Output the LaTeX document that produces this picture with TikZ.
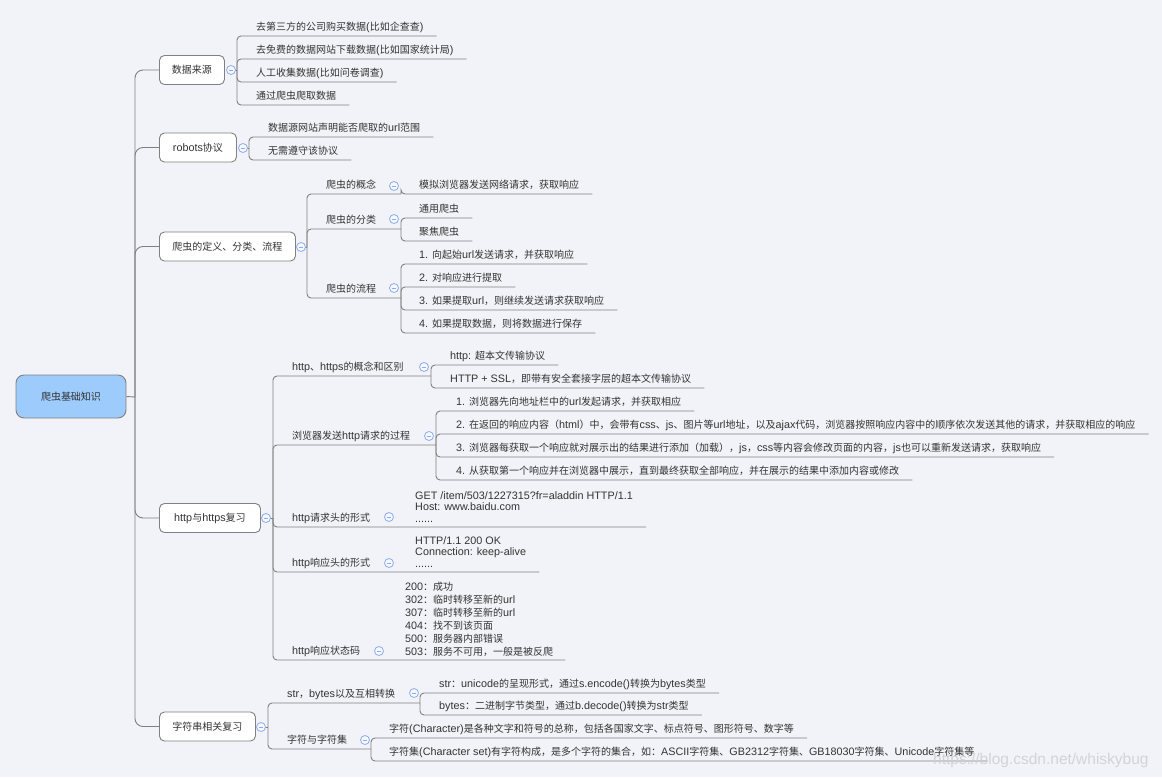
\documentclass[tikz,border=0pt]{standalone}
\usepackage{fontspec}
\setmainfont{Liberation Sans}[Scale=1.08]
\newfontfamily\cjkfont{Noto Sans CJK SC}
\newfontfamily\wmfont{Liberation Sans}
% CJK characters switch to the CJK family automatically
\XeTeXinterchartokenstate=1
\newXeTeXintercharclass\cjkcls
\newcount\cjkc
\def\cjkrange#1#2{\cjkc=#1\relax
  \loop\XeTeXcharclass\cjkc=\cjkcls\relax
  \ifnum\cjkc<#2\relax\advance\cjkc by 1\relax\repeat}
\cjkrange{"3000}{"303F}
\cjkrange{"4E00}{"9FFF}
\cjkrange{"FF00}{"FFEF}
\XeTeXinterchartoks 0 \cjkcls = {\begingroup\cjkfont}
\XeTeXinterchartoks 4095 \cjkcls = {\begingroup\cjkfont}
\XeTeXinterchartoks \cjkcls 0 = {\endgroup}
\XeTeXinterchartoks \cjkcls 4095 = {\endgroup}
\definecolor{bg}{RGB}{242,243,248}
\definecolor{ln}{RGB}{128,128,128}
\definecolor{tx}{RGB}{51,51,51}
\definecolor{rootfill}{RGB}{156,203,252}
\definecolor{btnc}{RGB}{140,172,238}
\definecolor{btnfill}{RGB}{246,248,255}
\definecolor{wm}{RGB}{205,205,212}
\pgfdeclarelayer{paper}
\pgfdeclarelayer{lines}
\pgfsetlayers{paper,lines,main}
\begin{document}
\begin{tikzpicture}[x=1pt,y=-1pt,
  conn/.style={draw=ln,line width=0.9pt},
  bconn/.style={conn,rounded corners=8pt},
  sconn/.style={conn,rounded corners=4pt},
  topic/.style={draw=ln,line width=0.9pt,fill=white,rounded corners=5pt,minimum height=29pt,inner sep=0pt,anchor=west,text=tx,font=\fontsize{10}{12}\selectfont},
  rootbox/.style={draw=ln,line width=0.9pt,fill=rootfill,rounded corners=8pt,minimum width=110pt,minimum height=43pt,inner sep=0pt,text=tx,font=\fontsize{10}{12}\selectfont},
  btn/.style={circle,draw=btnc,line width=0.8pt,fill=btnfill,minimum size=9pt,inner sep=0pt,
    path picture={\draw[btnc,line width=0.8pt] ([xshift=-2.2pt]path picture bounding box.center) -- ([xshift=2.2pt]path picture bounding box.center);}},
  leaf/.style={anchor=south west,inner sep=0pt,text depth=5pt,text=tx,font=\fontsize{10}{12}\selectfont},
  mleaf/.style={anchor=base west,inner sep=0pt,text=tx,font=\fontsize{10}{12}\selectfont},
]
\begin{pgfonlayer}{paper}
\fill[bg] (0,0) rectangle (1162,777);
\end{pgfonlayer}
\useasboundingbox (0,0) rectangle (1162,777);

% ---------- coordinates ----------
\coordinate (j0) at (135,397);
\coordinate (v1) at (237,70);
\coordinate (v2) at (249,148);
\coordinate (v3) at (307,247);
\coordinate (v4) at (273,518);
\coordinate (v5) at (268,727);
\coordinate (w31) at (401,194);
\coordinate (w32) at (401,229);
\coordinate (w33) at (401,298);
\coordinate (w41) at (431,376);
\coordinate (w42) at (436,445);
\coordinate (w43) at (396,527);
\coordinate (w44) at (396,572);
\coordinate (w45) at (396,660);
\coordinate (w51) at (420,703);
\coordinate (w52) at (371,749);

% ---------- main nodes ----------
\node[rootbox] (root) at (71,396.5) {爬虫基础知识};
\node[topic,minimum width=65pt] (n1) at (159,70) {数据来源};
\node[topic,minimum width=77pt] (n2) at (159,147.5) {robots协议};
\node[topic,minimum width=136pt] (n3) at (159,246.5) {爬虫的定义、分类、流程};
\node[topic,minimum width=101pt] (n4) at (159,518) {http与https复习};
\node[topic,minimum width=96pt] (n5) at (159,726.5) {字符串相关复习};

% ---------- collapse buttons ----------
\node[btn] (b1) at (231,70) {};
\node[btn] (b2) at (243,148) {};
\node[btn] (b3) at (301,247) {};
\node[btn] (b4) at (266,518) {};
\node[btn] (b5) at (261,727) {};
\node[btn] (bp1) at (394,186) {};
\node[btn] (bp2) at (394,219) {};
\node[btn] (bp3) at (394,288) {};
\node[btn] (bh1) at (424,367) {};
\node[btn] (bh2) at (429,436) {};
\node[btn] (bh3) at (389,517) {};
\node[btn] (bh4) at (389,563) {};
\node[btn] (bh5) at (379,651) {};
\node[btn] (bs1) at (414,693) {};
\node[btn] (bs2) at (365,740) {};

% ---------- leaves: section 1 ----------
\node[leaf] (a1) at (256,36) {去第三方的公司购买数据(比如企查查)};
\node[leaf] (a2) at (256,59) {去免费的数据网站下载数据(比如国家统计局)};
\node[leaf] (a3) at (256,82) {人工收集数据(比如问卷调查)};
\node[leaf] (a4) at (256,105) {通过爬虫爬取数据};
% section 2
\node[leaf] (r1) at (268,137) {数据源网站声明能否爬取的url范围};
\node[leaf] (r2) at (268,160) {无需遵守该协议};
% section 3
\node[leaf] (p1) at (326,194) {爬虫的概念};
\node[leaf] (p2) at (326,229) {爬虫的分类};
\node[leaf] (p3) at (326,298) {爬虫的流程};
\node[leaf] (c311) at (419,194) {模拟浏览器发送网络请求，获取响应};
\node[leaf] (c321) at (419,218) {通用爬虫};
\node[leaf] (c322) at (419,241) {聚焦爬虫};
\node[leaf] (c331) at (419,264) {1. 向起始url发送请求，并获取响应};
\node[leaf] (c332) at (419,287) {2. 对响应进行提取};
\node[leaf] (c333) at (419,310) {3. 如果提取url，则继续发送请求获取响应};
\node[leaf] (c334) at (419,333) {4. 如果提取数据，则将数据进行保存};
% section 4
\node[leaf] (h1) at (292,376) {http、https的概念和区别};
\node[leaf] (h2) at (292,445) {浏览器发送http请求的过程};
\node[leaf] (h3) at (292,527) {http请求头的形式};
\node[leaf] (h4) at (292,572) {http响应头的形式};
\node[leaf] (h5) at (292,660) {http响应状态码};
\node[leaf] (c411) at (450,365) {http: 超本文传输协议};
\node[leaf] (c412) at (450,388) {HTTP + SSL，即带有安全套接字层的超本文传输协议};
\node[leaf] (c421) at (456,411) {1. 浏览器先向地址栏中的url发起请求，并获取相应};
\node[leaf] (c422) at (456,434) {2. 在返回的响应内容（html）中，会带有css、js、图片等url地址，以及ajax代码，浏览器按照响应内容中的顺序依次发送其他的请求，并获取相应的响应};
\node[leaf] (c423) at (456,457) {3. 浏览器每获取一个响应就对展示出的结果进行添加（加载），js，css等内容会修改页面的内容，js也可以重新发送请求，获取响应};
\node[leaf] (c424) at (456,480) {4. 从获取第一个响应并在浏览器中展示，直到最终获取全部响应，并在展示的结果中添加内容或修改};
\node[mleaf] (h3c) at (415,522) {\vbox{\baselineskip=11.5pt\lineskiplimit=-100pt
  \hbox{GET /item/503/1227315?fr=aladdin HTTP/1.1}
  \hbox{Host: www.baidu.com}
  \hbox{......}}};
\node[mleaf] (h4c) at (415,567) {\vbox{\baselineskip=11.5pt\lineskiplimit=-100pt
  \hbox{HTTP/1.1 200 OK}
  \hbox{Connection: keep-alive}
  \hbox{......}}};
\node[mleaf] (h5c) at (405,655) {\vbox{\baselineskip=13pt\lineskiplimit=-100pt
  \hbox{200：成功}
  \hbox{302：临时转移至新的url}
  \hbox{307：临时转移至新的url}
  \hbox{404：找不到该页面}
  \hbox{500：服务器内部错误}
  \hbox{503：服务不可用，一般是被反爬}}};
% section 5
\node[leaf] (s1) at (287,703) {str，bytes以及互相转换};
\node[leaf] (s2) at (287,749) {字符与字符集};
\node[leaf] (c511) at (439,693) {str：unicode的呈现形式，通过s.encode()转换为bytes类型};
\node[leaf] (c512) at (439,715) {bytes：二进制字节类型，通过b.decode()转换为str类型};
\node[leaf] (c521) at (389,738) {字符(Character)是各种文字和符号的总称，包括各国家文字、标点符号、图形符号、数字等};
\node[leaf] (c522) at (389,761) {字符集(Character set)有字符构成，是多个字符的集合，如：ASCII字符集、GB2312字符集、GB18030字符集、Unicode字符集等};

% ---------- connectors (drawn below the nodes) ----------
\begin{pgfonlayer}{lines}
\draw[conn] (root.east) -- (j0);
\foreach \n in {n1,n2,n3,n4,n5} \draw[bconn] (j0) |- (\n.west);
% section 1
\draw[conn] (b1.center) -- (v1);
\foreach \c in {a1,a2,a3,a4} \draw[sconn] (v1) |- ([xshift=13pt]\c.south east);
% section 2
\draw[conn] (b2.center) -- (v2);
\foreach \c in {r1,r2} \draw[sconn] (v2) |- ([xshift=13pt]\c.south east);
% section 3
\draw[conn] (b3.center) -- (v3);
\foreach \w in {w31,w32,w33} \draw[sconn] (v3) |- (\w);
\draw[sconn] (w31) |- ([xshift=13pt]c311.south east);
\foreach \c in {c321,c322} \draw[sconn] (w32) |- ([xshift=13pt]\c.south east);
\foreach \c in {c331,c332,c333,c334} \draw[sconn] (w33) |- ([xshift=13pt]\c.south east);
% section 4
\draw[conn] (b4.center) -- (v4);
\foreach \w in {w41,w42} \draw[sconn] (v4) |- (\w);
\foreach \c in {c411,c412} \draw[sconn] (w41) |- ([xshift=13pt]\c.south east);
\foreach \c in {c421,c422,c423,c424} \draw[sconn] (w42) |- ([xshift=13pt]\c.south east);
\draw[sconn] (v4) |- (w43) -- ([xshift=13pt]h3c.east |- w43);
\draw[sconn] (v4) |- (w44) -- ([xshift=13pt]h4c.east |- w44);
\draw[sconn] (v4) |- (w45) -- ([xshift=12pt]h5c.east |- w45);
% section 5
\draw[conn] (b5.center) -- (v5);
\foreach \w in {w51,w52} \draw[sconn] (v5) |- (\w);
\foreach \c in {c511,c512} \draw[sconn] (w51) |- ([xshift=13pt]\c.south east);
\foreach \c in {c521,c522} \draw[sconn] (w52) |- ([xshift=13pt]\c.south east);
\end{pgfonlayer}

% ---------- watermark ----------
\node[anchor=west,inner sep=0pt,text=wm,opacity=0.85,font=\wmfont\fontsize{15.5}{16}\selectfont] (wmk) at (933,760) {https://blog.csdn.net/whiskybug};
\end{tikzpicture}
\end{document}
